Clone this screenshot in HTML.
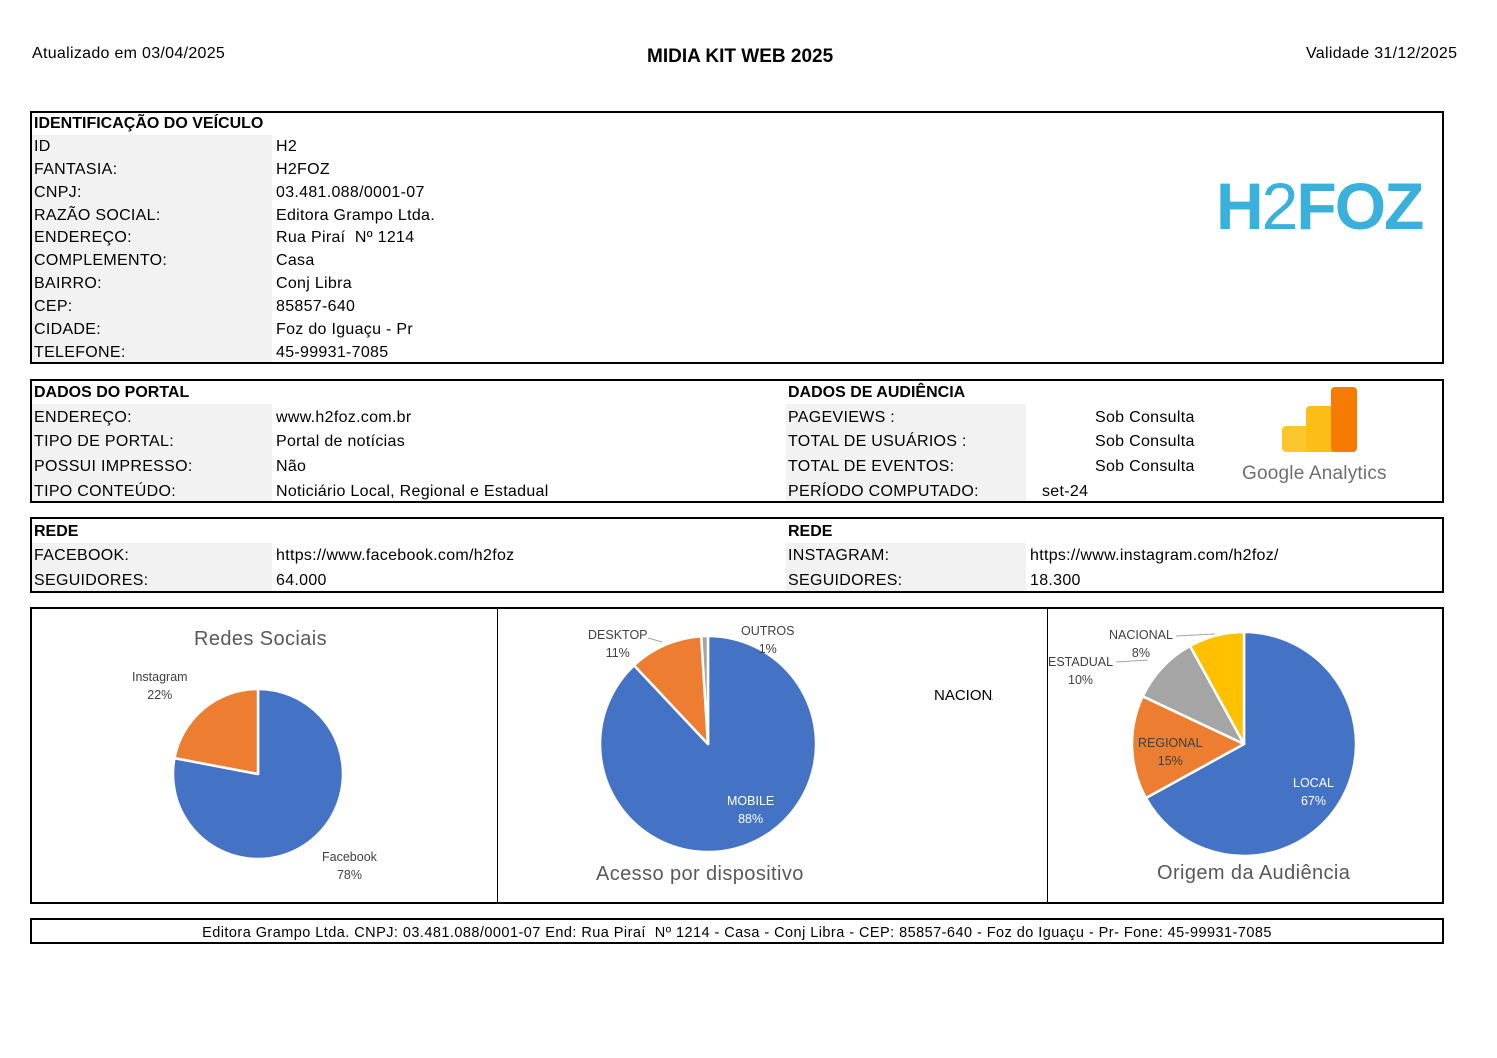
<!DOCTYPE html>
<html><head><meta charset="utf-8"><style>
body{margin:0;width:1497px;height:1058px;background:#fff;position:relative;font-family:"Liberation Sans",sans-serif;color:#000;overflow:hidden}
.t{position:absolute;font-size:16px;letter-spacing:0.3px;white-space:nowrap;line-height:20px}
.b{font-weight:bold;letter-spacing:0}
.box{position:absolute;border:2px solid #000;box-sizing:border-box}
.g{position:absolute;background:#f2f2f2}
.sm{position:absolute;font-size:12.5px;color:#404040;white-space:nowrap;text-align:center;line-height:18px}
.ct{position:absolute;font-size:20px;color:#595959;white-space:nowrap;letter-spacing:0.4px}
</style></head><body>
<div class="t" style="left:32px;top:44px">Atualizado em 03/04/2025</div>
<div class="t b" style="left:647px;top:47px;font-size:19px">MIDIA KIT WEB 2025</div>
<div class="t" style="left:1306px;top:44px">Validade 31/12/2025</div>

<div class="box" style="left:30px;top:111px;width:1414px;height:253px"></div>
<div class="g" style="left:32px;top:135px;width:240px;height:227px"></div>
<div class="t b" style="left:34px;top:114px">IDENTIFICAÇÃO DO VEÍCULO</div>
<div class="t" style="left:34px;top:137px">ID</div><div class="t" style="left:276px;top:137px">H2</div>
<div class="t" style="left:34px;top:160px">FANTASIA:</div><div class="t" style="left:276px;top:160px">H2FOZ</div>
<div class="t" style="left:34px;top:183px">CNPJ:</div><div class="t" style="left:276px;top:183px">03.481.088/0001-07</div>
<div class="t" style="left:34px;top:206px">RAZÃO SOCIAL:</div><div class="t" style="left:276px;top:206px">Editora Grampo Ltda.</div>
<div class="t" style="left:34px;top:228px">ENDEREÇO:</div><div class="t" style="left:276px;top:228px">Rua Piraí&nbsp; Nº 1214</div>
<div class="t" style="left:34px;top:251px">COMPLEMENTO:</div><div class="t" style="left:276px;top:251px">Casa</div>
<div class="t" style="left:34px;top:274px">BAIRRO:</div><div class="t" style="left:276px;top:274px">Conj Libra</div>
<div class="t" style="left:34px;top:297px">CEP:</div><div class="t" style="left:276px;top:297px">85857-640</div>
<div class="t" style="left:34px;top:320px">CIDADE:</div><div class="t" style="left:276px;top:320px">Foz do Iguaçu - Pr</div>
<div class="t" style="left:34px;top:343px">TELEFONE:</div><div class="t" style="left:276px;top:343px">45-99931-7085</div>
<div style="position:absolute;left:1216px;top:171px;font-size:66px;font-weight:bold;color:#3ab0dc;letter-spacing:-2px;line-height:70px">H<span style="font-weight:normal">2</span>FOZ</div>

<div class="box" style="left:30px;top:379px;width:1414px;height:124px"></div>
<div class="g" style="left:32px;top:404px;width:240px;height:97px"></div>
<div class="g" style="left:786px;top:404px;width:240px;height:97px"></div>
<div class="t b" style="left:34px;top:383px">DADOS DO PORTAL</div>
<div class="t" style="left:34px;top:408px">ENDEREÇO:</div><div class="t" style="left:276px;top:408px">www.h2foz.com.br</div>
<div class="t" style="left:34px;top:432px">TIPO DE PORTAL:</div><div class="t" style="left:276px;top:432px">Portal de notícias</div>
<div class="t" style="left:34px;top:457px">POSSUI IMPRESSO:</div><div class="t" style="left:276px;top:457px">Não</div>
<div class="t" style="left:34px;top:482px">TIPO CONTEÚDO:</div><div class="t" style="left:276px;top:482px">Noticiário Local, Regional e Estadual</div>
<div class="t b" style="left:788px;top:383px">DADOS DE AUDIÊNCIA</div>
<div class="t" style="left:788px;top:408px">PAGEVIEWS :</div><div class="t" style="left:1095px;top:408px">Sob Consulta</div>
<div class="t" style="left:788px;top:432px">TOTAL DE USUÁRIOS :</div><div class="t" style="left:1095px;top:432px">Sob Consulta</div>
<div class="t" style="left:788px;top:457px">TOTAL DE EVENTOS:</div><div class="t" style="left:1095px;top:457px">Sob Consulta</div>
<div class="t" style="left:788px;top:482px">PERÍODO COMPUTADO:</div><div class="t" style="left:1042px;top:482px">set-24</div>
<svg style="position:absolute;left:1280px;top:386px" width="80" height="68">
<rect x="2" y="40" width="50" height="26" rx="4" fill="#fcc72e"/>
<rect x="26" y="20" width="30" height="46" rx="4" fill="#fcbd17"/>
<rect x="51" y="1" width="26" height="65" rx="4" fill="#f57c00"/>
</svg>
<div style="position:absolute;left:1242px;top:463px;font-size:19px;color:#6f6f6f;letter-spacing:0.2px">Google Analytics</div>

<div class="box" style="left:30px;top:517px;width:1414px;height:76px"></div>
<div class="g" style="left:32px;top:543px;width:240px;height:48px"></div>
<div class="g" style="left:786px;top:543px;width:240px;height:48px"></div>
<div class="t b" style="left:34px;top:522px">REDE</div>
<div class="t" style="left:34px;top:546px">FACEBOOK:</div><div class="t" style="left:276px;top:546px">https://www.facebook.com/h2foz</div>
<div class="t" style="left:34px;top:571px">SEGUIDORES:</div><div class="t" style="left:276px;top:571px">64.000</div>
<div class="t b" style="left:788px;top:522px">REDE</div>
<div class="t" style="left:788px;top:546px">INSTAGRAM:</div><div class="t" style="left:1030px;top:546px">https://www.instagram.com/h2foz/</div>
<div class="t" style="left:788px;top:571px">SEGUIDORES:</div><div class="t" style="left:1030px;top:571px">18.300</div>

<div class="box" style="left:30px;top:607px;width:1414px;height:297px"></div>
<div style="position:absolute;left:497px;top:609px;width:1px;height:293px;background:#000"></div>
<div style="position:absolute;left:1047px;top:609px;width:1px;height:293px;background:#000"></div>
<svg style="position:absolute;left:0;top:0" width="1497" height="1058">
<g stroke="#fff" stroke-width="2.5" stroke-linejoin="round">
<path d="M258,774 L258,689 A85,85 0 1 1 174.5,758.1 Z" fill="#4472c4"/>
<path d="M258,774 L174.5,758.1 A85,85 0 0 1 258,689 Z" fill="#ed7d31"/>
<path d="M708,744 L708,636 A108,108 0 1 1 634.1,665.3 Z" fill="#4472c4"/>
<path d="M708,744 L634.1,665.3 A108,108 0 0 1 701.2,636.2 Z" fill="#ed7d31"/>
<path d="M708,744 L701.2,636.2 A108,108 0 0 1 708,636 Z" fill="#a5a5a5"/>
<path d="M1244,744 L1244,632 A112,112 0 1 1 1145.9,798 Z" fill="#4472c4"/>
<path d="M1244,744 L1145.9,798 A112,112 0 0 1 1142.7,696.3 Z" fill="#ed7d31"/>
<path d="M1244,744 L1142.7,696.3 A112,112 0 0 1 1190,645.9 Z" fill="#a5a5a5"/>
<path d="M1244,744 L1190,645.9 A112,112 0 0 1 1244,632 Z" fill="#ffc000"/>
</g>
<g stroke="#a6a6a6" stroke-width="1" fill="none">
<path d="M648,638 L662,642"/><path d="M1176,636 L1215,634"/><path d="M1116,662 L1148,660"/>
</g>
</svg>
<div class="ct" style="left:194px;top:628px">Redes Sociais</div>
<div class="sm" style="left:132px;top:668px">Instagram<br>22%</div>
<div class="sm" style="left:322px;top:848px">Facebook<br>78%</div>
<div class="sm" style="left:588px;top:626px">DESKTOP<br>11%</div>
<div class="sm" style="left:741px;top:622px">OUTROS<br>1%</div>
<div class="sm" style="left:727px;top:792px;color:#fff">MOBILE<br>88%</div>
<div class="ct" style="left:596px;top:863px">Acesso por dispositivo</div>
<div style="position:absolute;left:934px;top:687px;font-size:15px;width:59px;overflow:hidden;white-space:nowrap">NACIONAL</div>
<div class="sm" style="left:1109px;top:626px">NACIONAL<br>8%</div>
<div class="sm" style="left:1048px;top:653px">ESTADUAL<br>10%</div>
<div class="sm" style="left:1138px;top:734px">REGIONAL<br>15%</div>
<div class="sm" style="left:1293px;top:774px;color:#fff">LOCAL<br>67%</div>
<div class="ct" style="left:1157px;top:862px">Origem da Audiência</div>

<div class="box" style="left:30px;top:918px;width:1414px;height:26px"></div>
<div class="t" style="left:30px;top:923px;width:1414px;text-align:center;font-size:14.5px;letter-spacing:0.45px;line-height:20px">Editora Grampo Ltda. CNPJ: 03.481.088/0001-07 End: Rua Piraí&nbsp; Nº 1214 - Casa - Conj Libra - CEP: 85857-640 - Foz do Iguaçu - Pr- Fone: 45-99931-7085</div>
</body></html>
